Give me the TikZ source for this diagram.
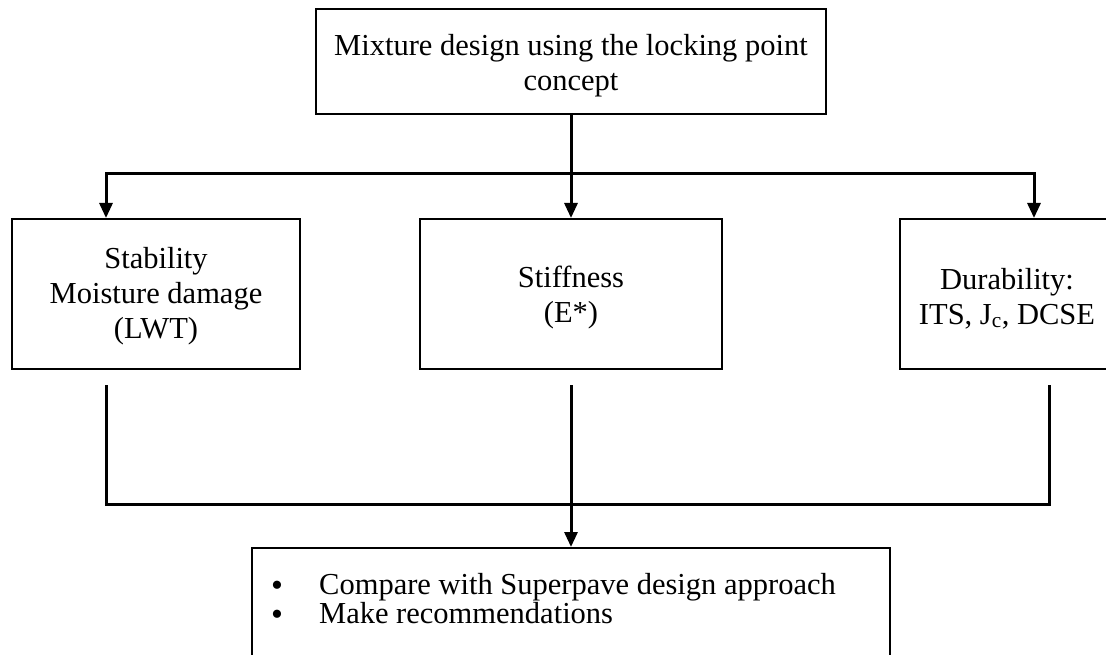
\documentclass[tikz,border=0pt]{standalone}
\usepackage{fontspec}
\setmainfont{Liberation Serif}
\usetikzlibrary{arrows.meta}
\newcommand{\bigbul}{\makebox[48pt][l]{\raisebox{-2pt}[0pt][0pt]{\fontsize{34}{26}\selectfont\textbullet}}}
\tikzset{
  box/.style={draw, line width=2pt, rectangle, inner sep=0pt, align=center,
    font=\fontsize{30.5}{35}\selectfont},
  conn/.style={line width=3pt},
  arr/.style={conn, -{Triangle[length=15pt,width=13pt]}},
}
\begin{document}
\begin{tikzpicture}[x=1pt,y=-1pt]
\useasboundingbox (0,0) rectangle (1106,655);
\fill[white] (0,0) rectangle (1106,655);

\node[box, minimum width=510pt, minimum height=105pt] (top) at (571,61.5)
  {\rule{0pt}{29pt}Mixture design using the locking point\\concept};
\node[box, minimum width=288pt, minimum height=150pt] (stab) at (156,294)
  {\rule{0pt}{25pt}Stability\\Moisture damage\\(LWT)};
\node[box, minimum width=302pt, minimum height=150pt] (stiff) at (571,294)
  {\rule{0pt}{28pt}Stiffness\\(E*)};
\node[box, minimum width=214pt, minimum height=150pt] (dur) at (1007,294)
  {\rule{0pt}{30pt}Durability:\\ITS, J\textsubscript{c}, DCSE};
\node[box, minimum width=638pt, minimum height=140pt] (comp) at (571,618) {};
\node[anchor=base west, inner sep=0pt, align=left,
      font=\fontsize{30.5}{26}\selectfont] (list) at (271,623)
  {\bigbul Compare with Superpave design approach\\
   \bigbul Make recommendations};

\coordinate (split) at (571,174);
\coordinate (join) at (571,504);

\draw[conn] (top.south) -- (split);
\draw[arr] (split) -- (stiff.north);
\draw[arr] (split) -| ([xshift=95pt]stab.north west);
\draw[arr] (split) -| ([xshift=135pt]dur.north west);

\draw[conn] ([xshift=95pt,yshift=-15pt]stab.south west) |- (join)
  -| ([xshift=150pt,yshift=-15pt]dur.south west);
\draw[arr] ([yshift=-15pt]stiff.south) -- (comp.north);
\end{tikzpicture}
\end{document}
